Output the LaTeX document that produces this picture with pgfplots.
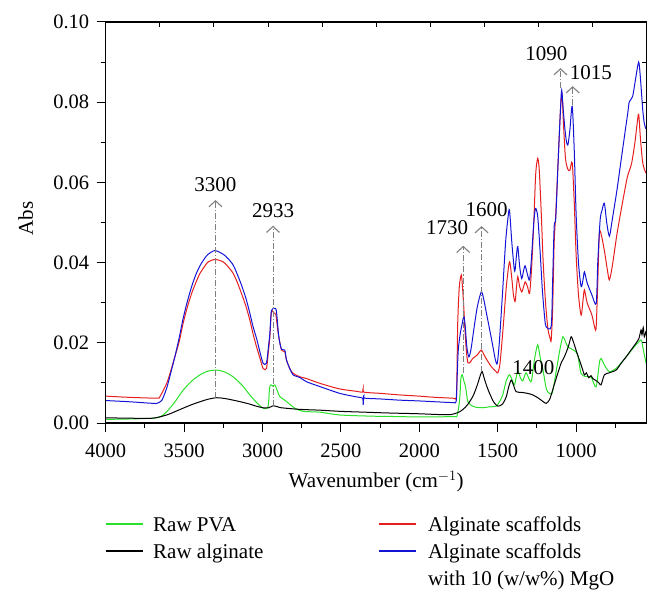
\documentclass[border=0pt]{standalone}
\usepackage{pgfplots}
\pgfplotsset{compat=1.18}
\usepackage{fontspec}
\setmainfont{Liberation Serif}
\usetikzlibrary{arrows.meta}

\definecolor{pvagreen}{RGB}{40,225,40}
\definecolor{scafred}{RGB}{230,30,30}
\definecolor{algblue}{RGB}{20,20,215}
\definecolor{annot}{RGB}{128,128,128}

\begin{document}
\begin{tikzpicture}[font=\fontsize{21}{27}\selectfont]
\begin{axis}[
    scale only axis, width=541pt, height=401pt,
    x dir=reverse,
    xmin=550, xmax=4000, ymin=0, ymax=0.1,
    xtick={1000,1500,2000,2500,3000,3500,4000},
    minor xtick={750,1250,1750,2250,2750,3250,3750},
    ytick={0,0.02,0.04,0.06,0.08,0.1},
    minor ytick={0.01,0.03,0.05,0.07,0.09},
    xtick pos=left, ytick pos=left, tick align=outside,
    major tick length=9pt, minor tick length=5pt,
    every tick/.style={black, line width=1pt},
    axis line style={line width=1.1pt},
    /pgf/number format/assume math mode=true,
    /pgf/number format/1000 sep={},
    tick label style={font=\fontsize{20.5}{24}\selectfont},
    xticklabel style={yshift=-8pt},
    yticklabel style={xshift=-4pt, /pgf/number format/fixed, /pgf/number format/fixed zerofill, /pgf/number format/precision=2},
    xlabel={Wavenumber (cm$^{-1}$)},
    ylabel={Abs},
    xlabel style={at={(axis description cs:0.5,-0.146)}, anchor=center},
    ylabel style={at={(axis description cs:-0.148,0.51)}, anchor=center},
    every axis plot/.append style={line width=1.3pt},
]
\coordinate (O) at (rel axis cs:0,0);

% Raw PVA
\addplot[pvagreen, smooth, tension=0.45] coordinates {
(4000,0.0009)(3850,0.001)(3700,0.0012)(3650,0.0016)(3611,0.0028)(3560,0.0052)(3506,0.0082)(3450,0.0105)(3399,0.012)(3350,0.0129)(3293,0.0132)(3240,0.0127)(3187,0.0115)(3130,0.0094)(3081,0.007)(3040,0.0052)(2996,0.0037)(2965,0.004)(2955,0.0088)(2945,0.0095)(2935,0.0092)(2921,0.0095)(2905,0.008)(2890,0.0066)(2858,0.0057)(2830,0.0048)(2794,0.0037)(2741,0.0029)(2635,0.0027)(2508,0.002)(2300,0.0017)(2126,0.0016)(2000,0.0015)(1786,0.0016)(1760,0.0018)(1743,0.0057)(1735,0.011)(1726,0.012)(1716,0.0105)(1705,0.009)(1690,0.0053)(1660,0.0042)(1637,0.0039)(1595,0.0038)(1560,0.004)(1510,0.0042)(1489,0.0053)(1468,0.007)(1446,0.0105)(1425,0.012)(1405,0.0105)(1393,0.0095)(1372,0.013)(1355,0.0112)(1340,0.0105)(1320,0.0125)(1300,0.011)(1285,0.0105)(1265,0.016)(1245,0.0195)(1230,0.0165)(1213,0.0136)(1190,0.0085)(1170,0.0074)(1150,0.0078)(1117,0.0153)(1100,0.019)(1085,0.0215)(1070,0.0205)(1053,0.019)(1030,0.0185)(1010,0.018)(990,0.017)(969,0.0124)(940,0.0116)(905,0.0115)(873,0.009)(852,0.0149)(841,0.0161)(820,0.0145)(788,0.0128)(740,0.0138)(681,0.0165)(650,0.018)(618,0.0195)(586,0.0207)(575,0.019)(554,0.0149)
};

% Alginate scaffolds
\addplot[scafred, smooth, tension=0.45] coordinates {
(4000,0.0067)(3850,0.0064)(3675,0.0062)(3654,0.0066)(3611,0.0099)(3585,0.013)(3559,0.0165)(3530,0.0205)(3506,0.0249)(3480,0.0288)(3452,0.0323)(3425,0.035)(3399,0.0373)(3370,0.039)(3346,0.0402)(3303,0.0408)(3251,0.0402)(3220,0.039)(3187,0.0373)(3160,0.035)(3134,0.0323)(3105,0.029)(3081,0.0257)(3060,0.0222)(3038,0.019)(3015,0.016)(2996,0.0136)(2975,0.0136)(2962,0.018)(2953,0.0215)(2943,0.0278)(2928,0.0274)(2915,0.027)(2900,0.0224)(2879,0.0182)(2858,0.0178)(2847,0.0157)(2825,0.0135)(2805,0.0124)(2760,0.0115)(2720,0.0111)(2635,0.0099)(2508,0.0085)(2400,0.0079)(2362,0.0077)(2358,0.0086)(2354,0.0077)(2250,0.0074)(2126,0.007)(2000,0.0067)(1900,0.0064)(1786,0.0062)(1765,0.0063)(1760,0.012)(1755,0.025)(1745,0.034)(1732,0.0369)(1725,0.034)(1718,0.03)(1710,0.024)(1700,0.018)(1690,0.015)(1675,0.0152)(1659,0.0161)(1630,0.017)(1605,0.0182)(1590,0.0172)(1573,0.016)(1540,0.014)(1510,0.0128)(1499,0.0125)(1485,0.015)(1465,0.024)(1445,0.034)(1425,0.0402)(1410,0.036)(1400,0.032)(1389,0.0303)(1380,0.034)(1372,0.0365)(1360,0.034)(1347,0.0327)(1335,0.034)(1325,0.0352)(1310,0.034)(1297,0.0323)(1285,0.038)(1270,0.05)(1258,0.062)(1245,0.066)(1235,0.063)(1222,0.052)(1210,0.04)(1195,0.03)(1180,0.0235)(1165,0.021)(1159,0.0207)(1150,0.028)(1140,0.045)(1130,0.052)(1115,0.065)(1100,0.078)(1090,0.082)(1080,0.074)(1068,0.066)(1053,0.0633)(1040,0.063)(1025,0.0649)(1012,0.055)(1000,0.042)(985,0.032)(968,0.0269)(955,0.031)(947,0.0332)(930,0.03)(900,0.027)(880,0.0236)(872,0.024)(862,0.035)(852,0.0473)(840,0.047)(820,0.043)(800,0.038)(788,0.0357)(770,0.039)(740,0.047)(713,0.0531)(690,0.058)(673,0.0614)(646,0.0648)(625,0.07)(610,0.075)(601,0.077)(590,0.071)(575,0.0648)(555,0.0623)
};

% Raw alginate
\addplot[black, smooth, tension=0.45] coordinates {
(4000,0.0013)(3850,0.0012)(3700,0.0012)(3611,0.002)(3560,0.0028)(3506,0.0037)(3450,0.0046)(3399,0.0053)(3350,0.0059)(3293,0.0063)(3240,0.0061)(3187,0.0057)(3130,0.0052)(3081,0.0047)(3040,0.0042)(2996,0.0038)(2960,0.0038)(2932,0.0043)(2900,0.004)(2880,0.0038)(2763,0.0034)(2635,0.0032)(2500,0.0029)(2350,0.0027)(2200,0.0025)(2000,0.0023)(1871,0.0021)(1800,0.0021)(1743,0.0028)(1700,0.0042)(1659,0.0066)(1630,0.0095)(1610,0.012)(1599,0.0128)(1585,0.011)(1570,0.0092)(1552,0.0074)(1525,0.0052)(1499,0.0042)(1470,0.0047)(1446,0.0065)(1430,0.009)(1414,0.0107)(1400,0.0095)(1382,0.0078)(1340,0.0076)(1300,0.0073)(1276,0.007)(1240,0.0062)(1223,0.0057)(1191,0.0049)(1170,0.0058)(1159,0.007)(1140,0.0095)(1117,0.0124)(1095,0.015)(1075,0.0165)(1050,0.019)(1032,0.0215)(1020,0.0205)(1011,0.0195)(995,0.0175)(979,0.0157)(960,0.0135)(947,0.012)(935,0.0125)(920,0.0113)(905,0.0118)(894,0.0111)(870,0.0105)(852,0.0099)(841,0.0095)(820,0.012)(790,0.0125)(745,0.0132)(715,0.0148)(681,0.0165)(650,0.0182)(618,0.0199)(600,0.021)(586,0.0232)(580,0.022)(572,0.0238)(565,0.0215)(554,0.023)
};

% Alginate scaffolds with 10 (w/w%) MgO
\addplot[algblue, smooth, tension=0.45] coordinates {
(4000,0.0056)(3850,0.0053)(3700,0.0049)(3675,0.0049)(3643,0.0056)(3611,0.0087)(3585,0.0125)(3559,0.0165)(3530,0.0215)(3506,0.0261)(3480,0.0302)(3452,0.034)(3425,0.037)(3399,0.0392)(3370,0.041)(3346,0.0421)(3303,0.043)(3251,0.0421)(3220,0.041)(3187,0.0394)(3160,0.037)(3134,0.0344)(3105,0.031)(3081,0.0274)(3060,0.024)(3038,0.0211)(3015,0.0175)(2996,0.0149)(2975,0.0149)(2962,0.019)(2953,0.0224)(2943,0.028)(2922,0.0286)(2911,0.0278)(2896,0.0215)(2879,0.0184)(2858,0.0182)(2847,0.0157)(2825,0.0135)(2805,0.012)(2760,0.0113)(2720,0.0103)(2635,0.0091)(2508,0.0074)(2400,0.0065)(2362,0.0062)(2358,0.0045)(2354,0.0068)(2350,0.0062)(2250,0.006)(2126,0.0057)(2000,0.0055)(1900,0.0053)(1786,0.0051)(1765,0.0054)(1760,0.01)(1752,0.018)(1740,0.022)(1728,0.0245)(1716,0.0265)(1707,0.024)(1697,0.019)(1684,0.0165)(1670,0.0185)(1650,0.024)(1630,0.029)(1605,0.0327)(1590,0.031)(1570,0.027)(1540,0.021)(1515,0.0158)(1503,0.0149)(1490,0.02)(1470,0.032)(1450,0.045)(1435,0.051)(1425,0.0531)(1410,0.045)(1395,0.0385)(1389,0.0382)(1380,0.042)(1372,0.044)(1360,0.039)(1347,0.036)(1335,0.038)(1325,0.0392)(1310,0.037)(1297,0.0357)(1285,0.041)(1270,0.05)(1259,0.0535)(1245,0.0515)(1230,0.043)(1215,0.033)(1200,0.026)(1191,0.024)(1159,0.0241)(1150,0.035)(1140,0.049)(1130,0.051)(1115,0.065)(1100,0.078)(1092,0.083)(1080,0.077)(1065,0.071)(1053,0.0693)(1040,0.073)(1025,0.079)(1012,0.068)(1000,0.052)(985,0.04)(968,0.034)(955,0.036)(947,0.0377)(930,0.035)(900,0.032)(872,0.0298)(862,0.04)(847,0.0506)(835,0.053)(820,0.0548)(805,0.05)(788,0.0466)(770,0.0506)(740,0.058)(713,0.0656)(690,0.072)(670,0.0775)(661,0.0801)(640,0.0814)(620,0.086)(601,0.09)(590,0.086)(575,0.078)(565,0.0747)(555,0.0733)
};

% peak markers
\pgfplotsset{every axis plot/.append style={line width=1pt}}
\addplot[annot, dash pattern=on 6pt off 2pt on 1.2pt off 2pt, -{Straight Barb[length=6pt,width=13pt,line width=1.1pt]}] coordinates {(3300,0.0062) (3300,0.0556)};
\addplot[annot, dash pattern=on 6pt off 2pt on 1.2pt off 2pt, -{Straight Barb[length=6pt,width=13pt,line width=1.1pt]}] coordinates {(2933,0.0042) (2933,0.0492)};
\addplot[annot, dash pattern=on 6pt off 2pt on 1.2pt off 2pt, -{Straight Barb[length=6pt,width=13pt,line width=1.1pt]}] coordinates {(1720,0.0124) (1720,0.0442)};
\addplot[annot, dash pattern=on 6pt off 2pt on 1.2pt off 2pt, -{Straight Barb[length=6pt,width=13pt,line width=1.1pt]}] coordinates {(1603,0.0128) (1603,0.0491)};
\addplot[annot, dash pattern=on 6pt off 2pt on 1.2pt off 2pt, -{Straight Barb[length=6pt,width=13pt,line width=1.1pt]}] coordinates {(1100,0.0835) (1100,0.0885)};
\addplot[annot, dash pattern=on 6pt off 2pt on 1.2pt off 2pt, -{Straight Barb[length=6pt,width=13pt,line width=1.1pt]}] coordinates {(1022,0.0793) (1022,0.084)};

\node at (axis cs:3300,0.0594) {3300};
\node at (axis cs:2933,0.0529) {2933};
\node at (axis cs:1822,0.0486) {1730};
\node at (axis cs:1571,0.0533) {1600};
\node at (axis cs:1189,0.092) {1090};
\node at (axis cs:906,0.0874) {1015};
\node at (axis cs:1272,0.0137) {1400};
\end{axis}

% inward ticks on top and right
\begin{axis}[
    scale only axis, width=541pt, height=401pt,
    xmin=0, xmax=10, ymin=0, ymax=0.1,
    xtick={1,2,3,4,5,6,7,8,9},
    ytick={0.01,0.02,0.03,0.04,0.05,0.06,0.07,0.08,0.09},
    xtick pos=right, ytick pos=right, tick align=inside,
    major tick length=5pt,
    every tick/.style={black, line width=1pt},
    axis line style={line width=1.1pt},
    xticklabels={}, yticklabels={},
]
\end{axis}

% legend below the axis, two columns
\draw[pvagreen, line width=1.6pt] (O) ++(0pt,-101pt) -- ++(37pt,0pt);
\draw[black, line width=1.6pt] (O) ++(0pt,-128pt) -- ++(37pt,0pt);
\draw[scafred, line width=1.6pt] (O) ++(273.3pt,-101pt) -- ++(37pt,0pt);
\draw[algblue, line width=1.6pt] (O) ++(273.3pt,-128pt) -- ++(37pt,0pt);
\begin{scope}[every node/.style={anchor=base west, inner sep=0pt}]
\node at ([shift={(47.3pt,-108pt)}]O) {Raw PVA};
\node at ([shift={(47.3pt,-135pt)}]O) {Raw alginate};
\node at ([shift={(322.3pt,-108pt)}]O) {Alginate scaffolds};
\node at ([shift={(322.3pt,-135pt)}]O) {Alginate scaffolds};
\node at ([shift={(322.3pt,-162pt)}]O) {with 10 (w/w\%) MgO};
\end{scope}

\path (O) ++(-105.7pt,-180pt) rectangle ++(662pt,603pt);
\end{tikzpicture}
\end{document}
